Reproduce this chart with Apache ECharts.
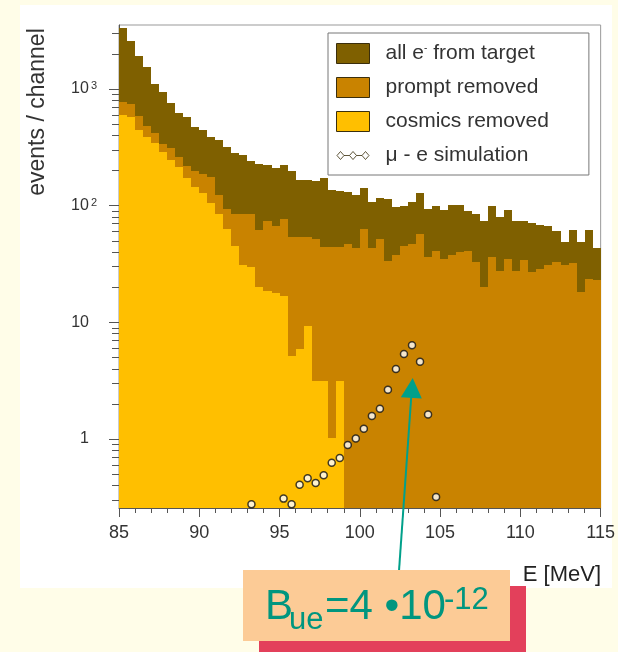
<!DOCTYPE html>
<html>
<head>
<meta charset="utf-8">
<script src="https://cdn.jsdelivr.net/npm/echarts@6.0.0/dist/echarts.min.js"></script>
<style>
  html, body { margin: 0; padding: 0; background: #fffde8; }
  #chart { width: 618px; height: 652px; }
</style>
</head>
<body>
<div id="chart"></div>
<script>
// energy binning: 0.5 MeV channels starting at 85 MeV
var binStart = 85;
var binWidth = 0.5;

// events per channel
var allTarget = [3290, 2540, 1890, 1520, 1100, 942, 757, 621, 574, 470,
                 443, 386, 363, 316, 281, 270, 240, 225, 221, 208,
                 221, 196, 164, 164, 161, 171, 135, 132, 130, 122,
                 140, 108, 116, 114, 96, 99, 108, 127, 94, 98,
                 91, 101, 101, 89, 85, 73, 98, 80, 92, 73,
                 73, 70, 68, 66, 60, 49, 61, 49, 61, 43];
var promptRemoved = [773, 743, 580, 475, 416, 333, 309, 262, 217, 196,
                     185, 174, 122, 94, 85, 85, 85, 61, 73, 66,
                     77, 54, 54, 54, 52, 44, 44, 44, 47, 43,
                     63, 43.5, 52, 33.6, 37.8, 45, 47, 57, 36.3, 41,
                     35, 37.8, 40, 41, 32.9, 20, 36.3, 27.7, 35, 27.7,
                     33.8, 27, 28.6, 30.6, 32.9, 30.6, 32.2, 18.1, 23.5, 23];
var cosmicsRemoved = [597, 574, 443, 386, 342, 286, 244, 213, 171, 143,
                      127, 104, 84, 63, 45, 31, 29.8, 20, 18.5, 17.8,
                      16.8, 5.1, 5.85, 9.2, 3.16, 3.16, 1.02, 3.16];

// mu -> e simulation points
var simEnergy = [93.25, 95.25, 95.75, 96.25, 96.75, 97.25, 97.75, 98.25, 98.75, 99.25,
                 99.75, 100.25, 100.75, 101.25, 101.75, 102.25, 102.75, 103.25, 103.75, 104.25, 104.75];
var simCounts = [0.275, 0.308, 0.275, 0.404, 0.461, 0.420, 0.489, 0.625, 0.686, 0.888,
                 1.01, 1.22, 1.57, 1.81, 2.64, 3.97, 5.33, 6.34, 4.58, 1.62, 0.318];

// axes
var xMin = 85, xMax = 115;
var yMin = 0.256, yMax = 3510;
var yMajorTicks = [1, 10, 100, 1000];
var yMajorSup = ['', '', '2', '3'];
var yMinorTicks = [0.3, 0.4, 0.5, 0.6, 0.7, 0.8, 0.9,
                   2, 3, 4, 5, 6, 7, 8, 9,
                   20, 30, 40, 50, 60, 70, 80, 90,
                   200, 300, 400, 500, 600, 700, 800, 900,
                   2000, 3000];

var FONT = '"Liberation Sans", Arial, Helvetica, sans-serif';
var colAll = '#7f6000';
var colPrompt = '#c98300';
var colCosmic = '#ffbf00';

/*
* 直方图数据 [下沿, 上沿, 计数]
*/
function histData(counts) {
    var out = [];
    for (var i = 0; i < counts.length; i++) {
        var lo = binStart + binWidth * i;
        out.push([lo, lo + binWidth, counts[i]]);
    }
    return out;
}

function histRender(color) {
    return function (params, api) {
        var top = api.coord([api.value(0), api.value(2)]);
        var bot = api.coord([api.value(1), yMin]);
        var l = Math.round(top[0]), r = Math.round(bot[0]);
        var t = Math.round(top[1]), b = Math.round(bot[1]);
        return {
            type: 'rect',
            shape: { x: l, y: t, width: r - l, height: b - t },
            style: { fill: color }
        };
    };
}

function tickData(list, len) {
    return list.map(function (v) { return [xMin, v, len]; });
}

function tickRender(params, api) {
    var p = api.coord([api.value(0), api.value(1)]);
    var y = Math.round(p[1]) + 0.5;
    return {
        type: 'line',
        shape: { x1: p[0] - api.value(2), y1: y, x2: p[0], y2: y },
        style: { stroke: '#555', lineWidth: 1 }
    };
}

var legendNames = {
    all: 'all e{sup|-} from target',
    prompt: 'prompt removed',
    cosmics: 'cosmics removed',
    sim: 'μ - e simulation'
};

var simIcon = 'path://M0,0M33,20M0.5,10L4,6L7.5,10L4,14ZM7.5,10L13,10M13,10L16.5,6L20,10L16.5,14ZM20,10L25.5,10M25.5,10L29,6L32.5,10L29,14Z';

var myChart = echarts.init(document.getElementById('chart'), null, { renderer: 'canvas' });

var option = {
    animation: false,
    backgroundColor: 'transparent',
    grid: {
        left: 119, right: 15, top: 25, bottom: 144,
        show: true, borderColor: '#999', borderWidth: 1
    },
    legend: {
        orient: 'vertical',
        left: 328, top: 33,
        padding: [10, 40, 9, 8],
        itemGap: 13,
        itemWidth: 33, itemHeight: 20,
        backgroundColor: '#fff',
        borderColor: '#777', borderWidth: 1,
        itemStyle: { borderColor: '#3a2e0c', borderWidth: 1 },
        textStyle: {
            fontFamily: FONT, fontSize: 21, color: '#333',
            lineHeight: 20, padding: [0, 0, 0, 11],
            rich: { sup: { fontSize: 10, verticalAlign: 'top', lineHeight: 12 } }
        },
        formatter: function (name) { return legendNames[name]; },
        data: [
            { name: 'all', icon: 'rect' },
            { name: 'prompt', icon: 'rect' },
            { name: 'cosmics', icon: 'rect' },
            { name: 'sim', icon: simIcon }
        ]
    },
    xAxis: {
        type: 'value', min: xMin, max: xMax, interval: 5,
        axisLine: { lineStyle: { color: '#555' } },
        axisTick: { length: 9, lineStyle: { color: '#555' } },
        minorTick: { show: true, splitNumber: 5, length: 5, lineStyle: { color: '#555' } },
        splitLine: { show: false },
        axisLabel: { margin: 16, fontFamily: FONT, fontSize: 18, color: '#333' }
    },
    yAxis: {
        type: 'log', logBase: 10, min: yMin, max: yMax,
        axisLine: { show: true, lineStyle: { color: '#555' } },
        axisTick: { show: false },
        splitLine: { show: false },
        axisLabel: {
            margin: 22, showMinLabel: false, showMaxLabel: false,
            fontFamily: FONT, fontSize: 16, color: '#333',
            formatter: function (v) {
                for (var i = 0; i < yMajorTicks.length; i++) {
                    if (Math.abs(v - yMajorTicks[i]) < 1e-6 * yMajorTicks[i]) {
                        var base = yMajorSup[i] ? '10' : String(yMajorTicks[i]);
                        var sup = yMajorSup[i] ? '{s|' + yMajorSup[i] + '}' : '{g| }';
                        return '{b|' + base + '}' + sup;
                    }
                }
                return '';
            },
            rich: {
                b: { fontFamily: FONT, fontSize: 16, color: '#333' },
                s: { fontFamily: FONT, fontSize: 11, color: '#333', verticalAlign: 'top', padding: [0, 0, 0, 2] },
                g: { width: 8 }
            }
        }
    },
    series: [
        {
            name: 'all', type: 'custom', z: 2,
            itemStyle: { color: colAll },
            encode: { x: [0, 1], y: 2 },
            renderItem: histRender(colAll),
            data: histData(allTarget)
        },
        {
            name: 'prompt', type: 'custom', z: 3,
            itemStyle: { color: colPrompt },
            encode: { x: [0, 1], y: 2 },
            renderItem: histRender(colPrompt),
            data: histData(promptRemoved)
        },
        {
            name: 'cosmics', type: 'custom', z: 4,
            itemStyle: { color: colCosmic },
            encode: { x: [0, 1], y: 2 },
            renderItem: histRender(colCosmic),
            data: histData(cosmicsRemoved)
        },
        {
            name: 'sim', type: 'scatter', z: 5,
            symbol: 'circle', symbolSize: 7,
            itemStyle: { color: '#fff', borderColor: '#111', borderWidth: 1.5 },
            data: simEnergy.map(function (e, i) { return [e, simCounts[i]]; })
        },
        {
            name: 'yticks', type: 'custom', z: 6, clip: false, silent: true,
            encode: { x: 0, y: 1 },
            renderItem: tickRender,
            data: tickData(yMajorTicks, 10).concat(tickData(yMinorTicks, 7))
        }
    ],
    graphic: [
        { type: 'rect', z: -10, shape: { x: 20, y: 5, width: 592, height: 583 }, style: { fill: '#fff' } },
        {
            type: 'text', x: 38, y: 112, rotation: Math.PI / 2, z: 10,
            style: { text: 'events / channel', font: '23px ' + FONT, fill: '#333', align: 'center', verticalAlign: 'middle' }
        },
        {
            type: 'text', x: 601, y: 575, z: 10,
            style: { text: 'E [MeV]', font: '22px ' + FONT, fill: '#222', align: 'right', verticalAlign: 'middle' }
        },
        // annotation arrow
        { type: 'line', z: 20, shape: { x1: 399, y1: 571, x2: 411.3, y2: 396 }, style: { stroke: '#00a08a', lineWidth: 2 } },
        { type: 'polygon', z: 20, shape: { points: [[412.7, 378], [421.8, 398.6], [400.8, 397.2]] }, style: { fill: '#00a08a' } },
        // annotation boxes
        { type: 'rect', z: 30, shape: { x: 259, y: 586, width: 267, height: 70 }, style: { fill: '#e3405b' } },
        { type: 'rect', z: 31, shape: { x: 243, y: 570, width: 267, height: 71 }, style: { fill: '#fccb96' } },
        { type: 'text', z: 32, x: 265, y: 607, style: { text: 'B', font: '42px ' + FONT, fill: '#00967f', verticalAlign: 'middle' } },
        { type: 'text', z: 32, x: 289, y: 620, style: { text: 'ue', font: '31px ' + FONT, fill: '#00967f', verticalAlign: 'middle' } },
        { type: 'text', z: 32, x: 325, y: 607, style: { text: '=4 \u202210', font: '42px ' + FONT, fill: '#00967f', verticalAlign: 'middle' } },
        { type: 'text', z: 32, x: 444, y: 600, style: { text: '-12', font: '31px ' + FONT, fill: '#00967f', verticalAlign: 'middle' } }
    ]
};

if (option && typeof option === 'object') {
    myChart.setOption(option);
}
window.addEventListener('resize', myChart.resize);
</script>
</body>
</html>
